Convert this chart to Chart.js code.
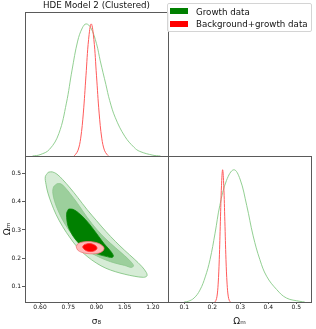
<!DOCTYPE html>
<html><head><meta charset="utf-8">
<script src="https://cdn.jsdelivr.net/npm/chart.js@4.4.1/dist/chart.umd.min.js"></script>
<style>
html,body{margin:0;padding:0;background:#fff;width:316px;height:329px;overflow:hidden;font-family:"DejaVu Sans",sans-serif;}
canvas{position:absolute;}
.abs{position:absolute;}
#legbox{left:166.5px;top:3px;width:145.5px;height:29px;border:1px solid #d4d4d4;border-radius:2px;background:rgba(255,255,255,0.92);box-sizing:border-box;}
.sw{width:18px;height:6px;left:170px;}
.lab{left:196px;font-size:8.7px;line-height:10px;color:#111;white-space:nowrap;}
</style></head>
<body>
<canvas id="tl" width="170" height="157" style="left:0;top:0"></canvas>
<canvas id="bl" width="170" height="179" style="left:0;top:150px"></canvas>
<canvas id="br" width="156" height="179" style="left:160px;top:150px"></canvas>
<div id="legbox" class="abs"></div>
<div class="abs sw" style="top:8.3px;background:#008000"></div>
<div class="abs lab" style="top:6.5px">Growth data</div>
<div class="abs sw" style="top:20.7px;background:#ff0000"></div>
<div class="abs lab" style="top:19px">Background+growth data</div>
<script>
// ---- tick labels ----
const sigma8Ticks = [0.60, 0.75, 0.90, 1.05, 1.20];
const omegaTicks = [0.1, 0.2, 0.3, 0.4, 0.5];
const seriesNames = ['Growth data', 'Background+growth data'];

// ---- 1D marginal: sigma8 ----
const s8GrowthX = [0.56, 0.60, 0.65, 0.70, 0.74, 0.77, 0.80, 0.825, 0.845, 0.87, 0.90, 0.92, 0.95, 0.97, 1.00, 1.05, 1.10, 1.13, 1.20, 1.24];
const s8GrowthP = [0.0, 0.01, 0.05, 0.17, 0.40, 0.65, 0.87, 0.97, 1.0, 0.97, 0.85, 0.72, 0.54, 0.42, 0.29, 0.15, 0.065, 0.035, 0.006, 0.0];
const s8BothX = [0.78, 0.788, 0.802, 0.816, 0.830, 0.844, 0.858, 0.872, 0.886, 0.900, 0.914, 0.928, 0.942, 0.956, 0.964];
const s8BothP = [0.0, 0.011, 0.044, 0.135, 0.325, 0.607, 0.882, 1.0, 0.882, 0.607, 0.325, 0.135, 0.044, 0.011, 0.0];

// ---- 1D marginal: Omega_m ----
const omGrowthX = [0.10, 0.114, 0.135, 0.156, 0.175, 0.192, 0.21, 0.227, 0.251, 0.277, 0.299, 0.323, 0.346, 0.37, 0.394, 0.43, 0.465, 0.513, 0.53];
const omGrowthP = [0.0, 0.005, 0.03, 0.09, 0.19, 0.32, 0.52, 0.73, 0.92, 1.0, 0.93, 0.73, 0.50, 0.32, 0.195, 0.094, 0.03, 0.005, 0.0];
const omBothX = [0.209, 0.213, 0.217, 0.221, 0.225, 0.229, 0.233, 0.237, 0.241, 0.245, 0.249, 0.253, 0.257, 0.261, 0.265];
const omBothP = [0.0, 0.011, 0.044, 0.135, 0.32, 0.61, 0.88, 1.0, 0.88, 0.61, 0.32, 0.135, 0.044, 0.011, 0.0];

// ---- 2D contours (sigma8, Omega_m) ----
const growthOuterS8 = [0.644,0.628,0.632,0.642,0.660,0.685,0.720,0.760,0.800,0.850,0.900,0.950,1.000,1.050,1.100,1.150,1.168,1.165,1.140,1.100,1.050,1.000,0.950,0.900,0.850,0.800,0.760,0.720,0.690,0.665,0.644];
const growthOuterOm = [0.504,0.488,0.460,0.430,0.395,0.355,0.312,0.272,0.238,0.207,0.183,0.165,0.153,0.144,0.137,0.133,0.138,0.150,0.172,0.198,0.228,0.260,0.295,0.333,0.372,0.415,0.448,0.478,0.497,0.505,0.504];
const growthMidS8 = [0.690,0.672,0.668,0.678,0.695,0.720,0.755,0.800,0.850,0.900,0.950,1.000,1.050,1.085,1.097,1.080,1.050,1.000,0.950,0.900,0.850,0.800,0.760,0.730,0.710,0.690];
const growthMidOm = [0.463,0.452,0.430,0.400,0.370,0.335,0.298,0.260,0.228,0.209,0.194,0.183,0.175,0.168,0.174,0.190,0.209,0.238,0.268,0.303,0.345,0.393,0.428,0.452,0.463,0.463];
const growthInS8 = [0.752,0.742,0.741,0.748,0.765,0.790,0.820,0.860,0.910,0.950,0.982,0.990,0.972,0.940,0.910,0.875,0.840,0.805,0.775,0.752];
const growthInOm = [0.374,0.362,0.345,0.315,0.290,0.265,0.245,0.228,0.214,0.207,0.203,0.209,0.228,0.252,0.279,0.310,0.338,0.360,0.373,0.374];
const bothOuterS8 = [0.792,0.800,0.822,0.850,0.880,0.910,0.932,0.940,0.932,0.910,0.880,0.850,0.822,0.800,0.792];
const bothOuterOm = [0.241,0.251,0.257,0.259,0.258,0.253,0.244,0.235,0.225,0.218,0.216,0.217,0.221,0.229,0.241];
const bothInS8 = [0.826,0.833,0.848,0.866,0.884,0.898,0.903,0.896,0.882,0.864,0.846,0.833,0.826];
const bothInOm = [0.240,0.247,0.251,0.252,0.249,0.243,0.236,0.229,0.225,0.224,0.227,0.233,0.240];

const zip = (xs, ys) => xs.map((x, i) => ({x: x, y: ys[i]}));
const FONT = 'DejaVu Sans';
const FRAME = '#5a5a5a';

const framePlugin = {
  id: 'frame',
  afterDraw(chart) {
    const a = chart.chartArea, c = chart.ctx;
    c.save();
    c.strokeStyle = FRAME; c.lineWidth = 1;
    c.strokeRect(Math.round(a.left) + 0.5, Math.round(a.top) + 0.5,
      Math.round(a.right) - Math.round(a.left), Math.round(a.bottom) - Math.round(a.top));
    c.restore();
  }
};

const tickFont = {size: 6, family: FONT, lineHeight: 1};
const labFont = {size: 9, family: FONT};

function xAxisS8(showLabels) {
  return {
    type: 'linear', min: 0.52, max: 1.28,
    afterBuildTicks: s => { s.ticks = sigma8Ticks.map(v => ({value: v})); },
    ticks: {display: showLabels, callback: v => v.toFixed(2), font: tickFont, color: '#111', padding: 0.5, maxRotation: 0, autoSkip: false},
    grid: {drawOnChartArea: false, drawTicks: true, tickLength: 2, tickColor: FRAME, color: FRAME},
    border: {display: false},
    title: {display: showLabels, text: 'σ₈', font: labFont, color: '#111', padding: {top: 0, bottom: 1.6}},
    afterFit: s => { s.height = showLabels ? 27 : 1; }
  };
}

const common = {
  responsive: false, animation: false, devicePixelRatio: 1,
  plugins: {legend: {display: false}, tooltip: {enabled: false}},
  elements: {point: {radius: 0}}
};

// Top-left: sigma8 marginal
new Chart(document.getElementById('tl'), {
  type: 'scatter',
  data: {datasets: [
    {label: seriesNames[1], data: zip(s8BothX, s8BothP), showLine: true, borderColor: '#ff5a5a', borderWidth: 1, tension: 0.4, pointRadius: 0},
    {label: seriesNames[0], data: zip(s8GrowthX, s8GrowthP), showLine: true, borderColor: '#86c986', borderWidth: 0.9, tension: 0.4, pointRadius: 0}
  ]},
  options: Object.assign({}, common, {
    layout: {padding: {left: 25, right: 2, top: 0, bottom: 0}},
    plugins: {legend: {display: false}, tooltip: {enabled: false},
      title: {display: true, text: 'HDE Model 2 (Clustered)', font: {size: 8.7, family: FONT, weight: 'normal'}, color: '#111', padding: {top: 0.8, bottom: 0.76}}},
    scales: {
      x: xAxisS8(false),
      y: {display: false, min: 0, max: 1.09}
    }
  }),
  plugins: [framePlugin]
});

// Bottom-left: 2D contours
const fillSet = (label, xs, ys, bg, bc) => ({label: label, data: zip(xs, ys), showLine: true, fill: 'shape', backgroundColor: bg, borderColor: bc, borderWidth: 0.8, tension: 0.35, pointRadius: 0});
new Chart(document.getElementById('bl'), {
  type: 'scatter',
  data: {datasets: [
    fillSet(seriesNames[1], bothInS8, bothInOm, '#ff0000', '#ff3030'),
    fillSet(seriesNames[1], bothOuterS8, bothOuterOm, '#ffb8b8', '#f07878'),
    fillSet(seriesNames[0], growthInS8, growthInOm, '#008000', '#0a8a0a'),
    fillSet(seriesNames[0], growthMidS8, growthMidOm, '#9ccf9c', '#8cc68c'),
    fillSet(seriesNames[0], growthOuterS8, growthOuterOm, '#d6ecd6', '#78c078')
  ]},
  options: Object.assign({}, common, {
    layout: {padding: {left: 0, right: 2, top: 6, bottom: 0}},
    scales: {
      x: xAxisS8(true),
      y: {
        type: 'linear', min: 0.046, max: 0.561,
        afterBuildTicks: s => { s.ticks = omegaTicks.map(v => ({value: v})); },
        ticks: {callback: v => v.toFixed(1), font: tickFont, color: '#111', padding: 1, autoSkip: false},
        grid: {drawOnChartArea: false, drawTicks: true, tickLength: 3, tickColor: FRAME, color: FRAME},
        border: {display: false},
        title: {display: true, text: 'Ωₘ', font: labFont, color: '#111', padding: {top: 1.8, bottom: 0}},
        afterFit: s => { s.width = 25; }
      }
    }
  }),
  plugins: [framePlugin]
});

// Bottom-right: Omega_m marginal
new Chart(document.getElementById('br'), {
  type: 'scatter',
  data: {datasets: [
    {label: seriesNames[1], data: zip(omBothX, omBothP), showLine: true, borderColor: '#ff5a5a', borderWidth: 1, tension: 0.4, pointRadius: 0},
    {label: seriesNames[0], data: zip(omGrowthX, omGrowthP), showLine: true, borderColor: '#86c986', borderWidth: 0.9, tension: 0.4, pointRadius: 0}
  ]},
  options: Object.assign({}, common, {
    layout: {padding: {left: 8, right: 5, top: 6, bottom: 0}},
    scales: {
      x: {
        type: 'linear', min: 0.042, max: 0.5525,
        afterBuildTicks: s => { s.ticks = omegaTicks.map(v => ({value: v})); },
        ticks: {callback: v => v.toFixed(1), font: tickFont, color: '#111', padding: 0.5, maxRotation: 0, autoSkip: false},
        grid: {drawOnChartArea: false, drawTicks: true, tickLength: 2, tickColor: FRAME, color: FRAME},
        border: {display: false},
        title: {display: true, text: 'Ωₘ', font: labFont, color: '#111', padding: {top: 0, bottom: 1.6}},
        afterFit: s => { s.height = 27; }
      },
      y: {display: false, min: 0, max: 1.104}
    }
  }),
  plugins: [framePlugin]
});
</script>
</body></html>
